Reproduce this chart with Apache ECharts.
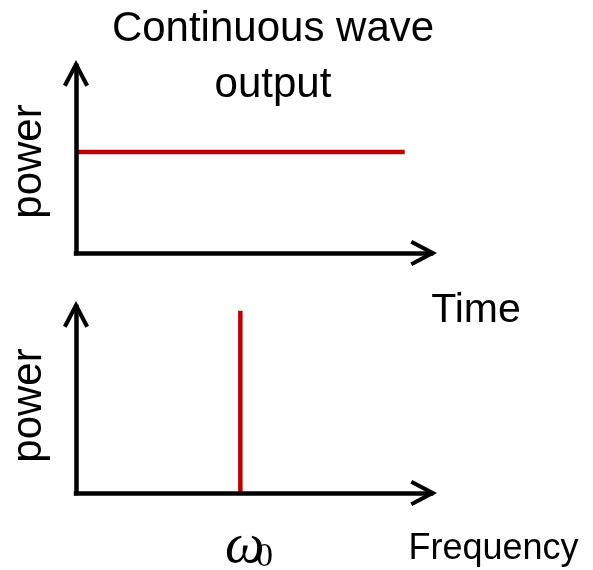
<!DOCTYPE html>
<html><head><meta charset="utf-8">
<script src="https://cdn.jsdelivr.net/npm/echarts@6/dist/echarts.min.js"></script>
<style>html,body{margin:0;padding:0;background:#fff}#c{width:593px;height:570px}</style>
</head><body><div id="c"></div>
<script>
// ---- data ----
const titleLines = ['Continuous wave', 'output'];
const yLabel = 'power';
const timeLabel = 'Time';
const freqLabel = 'Frequency';
const omegaSymbol = 'ω';
const omegaSub = '0';
// top panel: continuous-wave power vs time (constant)
const cwTime = [0, 1];
const cwPower = [0.54, 0.54];
// bottom panel: spectrum, single line at ω0
const omega0 = [0.5, 0.5];
const specPower = [0, 0.98];
const timeMax = 1.08, freqMax = 1.08, powerMax = 1;

// ---- styling ----
const RED = '#C00000';
const FONT = '"Liberation Sans", Arial, sans-serif';
const chevron = 'path://M0,24.39L12.77,0L25.54,24.39L22,26.25L12.77,8.64L3.54,26.25Z';
const axisLine = {
  show: true, symbol: ['none', chevron], symbolSize: [26, 26.7], symbolOffset: [0, -7.3],
  lineStyle: { color: '#000', width: 4.5, cap: 'square' }
};
function axis(idx, max) {
  return { type: 'value', gridIndex: idx, min: 0, max: max, z: 5,
    axisLine: axisLine, axisTick: { show: false }, axisLabel: { show: false },
    splitLine: { show: false } };
}
const chart = echarts.init(document.getElementById('c'), null, { renderer: 'canvas' });
function txt(x, y, text, size, opts) {
  return Object.assign({ type: 'text', x: x, y: y, style: Object.assign({ text: text, fill: '#000',
    font: size + 'px ' + FONT, align: 'center', verticalAlign: 'middle' }, (opts && opts.style) || {}) },
    opts && opts.el || {});
}
chart.setOption({
  animation: false,
  backgroundColor: '#fff',
  grid: [
    { left: 76, top: 66, right: 162, bottom: 317 },
    { left: 76, top: 307, right: 162, bottom: 77 }
  ],
  xAxis: [axis(0, timeMax), axis(1, freqMax)],
  yAxis: [axis(0, powerMax), axis(1, powerMax)],
  series: [
    { type: 'line', xAxisIndex: 0, yAxisIndex: 0, z: 1, showSymbol: false, symbol: 'none',
      data: cwTime.map((t, i) => [t, cwPower[i]]),
      lineStyle: { color: RED, width: 4.5 } },
    { type: 'line', xAxisIndex: 1, yAxisIndex: 1, z: 1, showSymbol: false, symbol: 'none',
      data: omega0.map((w, i) => [w, specPower[i]]),
      lineStyle: { color: RED, width: 4.5 } }
  ],
  graphic: [
    txt(273, 29, titleLines[0], 42),
    txt(273, 85, titleLines[1], 42),
    txt(29, 161.5, yLabel, 42, { el: { rotation: Math.PI / 2 } }),
    txt(29, 405.5, yLabel, 42, { el: { rotation: Math.PI / 2 } }),
    txt(476, 311, timeLabel, 41),
    txt(493.5, 549, freqLabel, 36),
    txt(225, 547, omegaSymbol, 56, { style: { align: 'left', font: 'italic 56px "Liberation Serif", serif' } }),
    txt(256, 557.5, omegaSub, 34, { style: { align: 'left', font: '34px "Liberation Serif", serif' } })
  ]
});
</script></body></html>
